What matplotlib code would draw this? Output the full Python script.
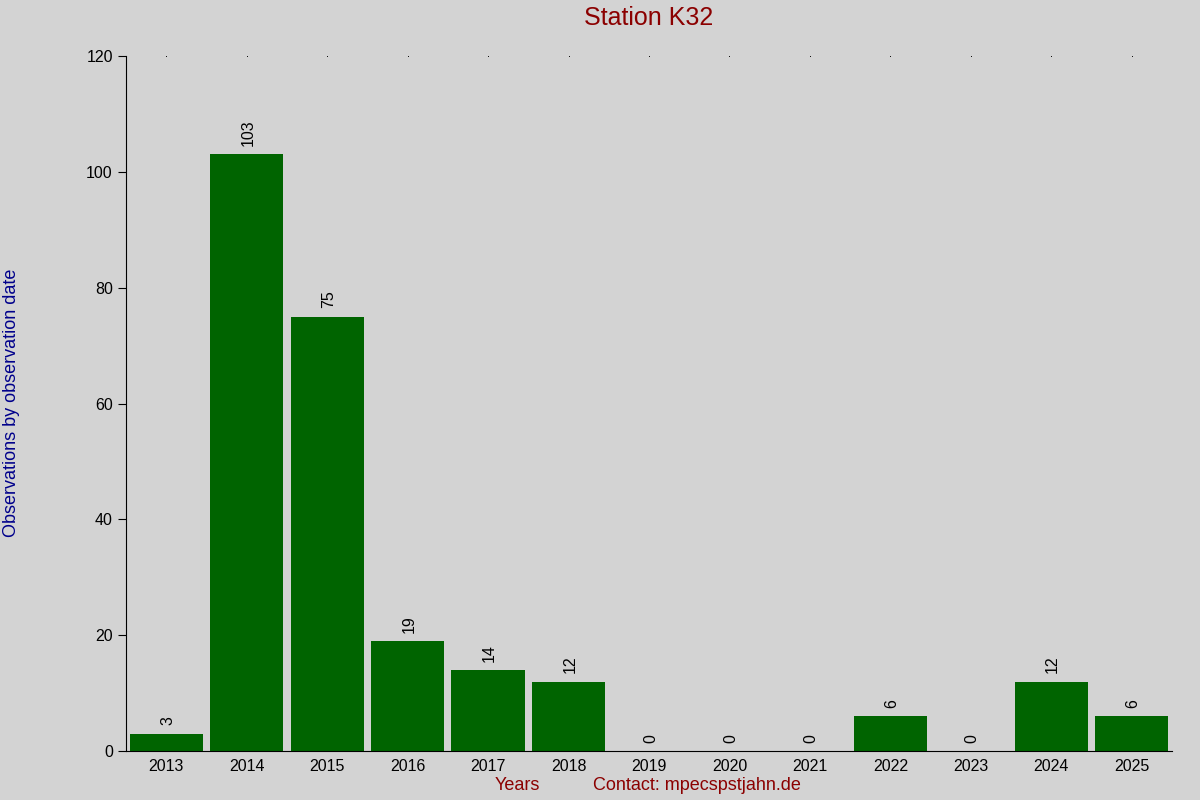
import matplotlib
matplotlib.use('Agg')
import matplotlib.pyplot as plt

years = ['2013', '2014', '2015', '2016', '2017', '2018', '2019',
         '2020', '2021', '2022', '2023', '2024', '2025']
counts = [3, 103, 75, 19, 14, 12, 0, 0, 0, 6, 0, 12, 6]

plt.rcParams['font.family'] = ['Liberation Sans', 'DejaVu Sans']

fig = plt.figure(figsize=(12, 8), dpi=100, facecolor='#d3d3d3')
ax = fig.add_axes([126/1200, 1 - 751/800, (1172-126)/1200, (751-56)/800])
ax.set_facecolor('#d3d3d3')

x = list(range(len(years)))
ax.bar(x, counts, width=0.91, color='#006400')
for xi, c in zip(x, counts):
    ax.annotate(str(c), (xi, c), xytext=(1, 6), textcoords='offset points',
                rotation=90, ha='center', va='bottom', fontsize=11.5)

ax.set_xlim(-0.5, len(years) - 0.5)
ax.set_ylim(0, 120)
ax.set_yticks([0, 20, 40, 60, 80, 100, 120])
ax.set_xticks(x)
ax.set_xticklabels(years)
ax.tick_params(axis='x', length=0, labelsize=11.5, pad=6)
ax.tick_params(axis='y', length=6, labelsize=11.5)

# tiny dots at top for category positions
for xi in x:
    ax.plot(xi, 120, marker='s', markersize=0.6, markeredgewidth=0,
            color='black', clip_on=False)

ax.spines['top'].set_visible(False)
ax.spines['right'].set_visible(False)

fig.text(649/1200, 1 - 18/800, 'Station K32', ha='center', va='center',
         fontsize=18, color='#8b0000')
fig.text(12/1200, 1 - 403/800, 'Observations by observation date', rotation=90,
         ha='center', va='center', fontsize=13, color='#00008b')
fig.text(517/1200, 1 - 786/800, 'Years', ha='center', va='center',
         fontsize=13, color='#8b0000')
fig.text(697/1200, 1 - 786/800, 'Contact: mpecspstjahn.de', ha='center', va='center',
         fontsize=13, color='#8b0000')

fig.savefig('out.png', dpi=100, facecolor=fig.get_facecolor())
